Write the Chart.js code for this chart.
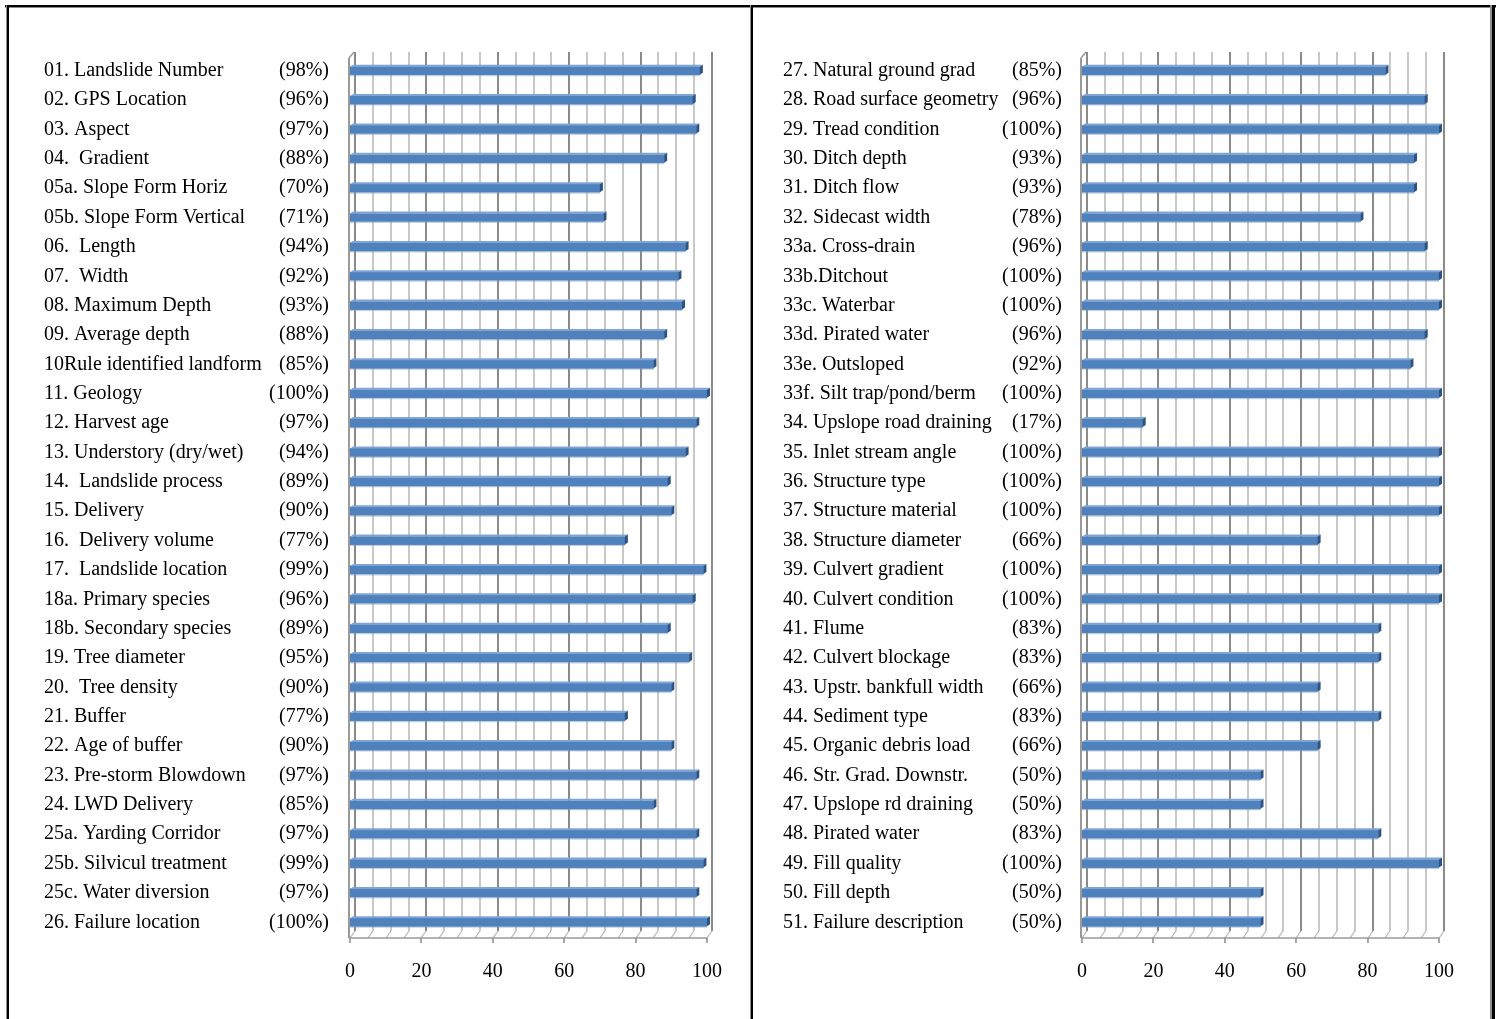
<!DOCTYPE html>
<html>
<head>
<meta charset="utf-8">
<title>Field completion by attribute</title>
<script src="https://cdn.jsdelivr.net/npm/chart.js@4.4.1/dist/chart.umd.min.js"></script>
<style>
  html, body { margin: 0; padding: 0; background: #fff; }
  body { width: 1501px; height: 1019px; position: relative; overflow: hidden; }
  .rule { position: absolute; }
  .panel { position: absolute; top: 9px; height: 1010px; }
</style>
</head>
<body>
<!-- page frame -->
<div class="rule" style="left:5px;top:5px;width:1491px;height:2px;background:#000"></div>
<div class="rule" style="left:5px;top:7px;width:1491px;height:1px;background:#8c8c8c"></div>
<div class="rule" style="left:6px;top:5px;width:1px;height:1014px;background:#8c8c8c"></div>
<div class="rule" style="left:7px;top:5px;width:2px;height:1014px;background:#000"></div>
<div class="rule" style="left:750px;top:5px;width:1px;height:1014px;background:#8c8c8c"></div>
<div class="rule" style="left:751px;top:5px;width:2px;height:1014px;background:#000"></div>
<div class="rule" style="left:1490px;top:5px;width:2px;height:1014px;background:#8c8c8c"></div>
<div class="rule" style="left:1492px;top:5px;width:3px;height:1014px;background:#000"></div>

<div class="panel" style="left:9px;width:740px"><canvas id="leftChart" width="740" height="1010"></canvas></div>
<div class="panel" style="left:753px;width:737px"><canvas id="rightChart" width="737" height="1010"></canvas></div>

<script>
// Attribute names and percentage of records with the attribute filled in
const leftNames = [
  '01. Landslide Number', '02. GPS Location', '03. Aspect', '04.  Gradient',
  '05a. Slope Form Horiz', '05b. Slope Form Vertical', '06.  Length', '07.  Width',
  '08. Maximum Depth', '09. Average depth', '10Rule identified landform', '11. Geology',
  '12. Harvest age', '13. Understory (dry/wet)', '14.  Landslide process', '15. Delivery',
  '16.  Delivery volume', '17.  Landslide location', '18a. Primary species', '18b. Secondary species',
  '19. Tree diameter', '20.  Tree density', '21. Buffer', '22. Age of buffer',
  '23. Pre-storm Blowdown', '24. LWD Delivery', '25a. Yarding Corridor', '25b. Silvicul treatment',
  '25c. Water diversion', '26. Failure location'
];
const leftValues = [
  98, 96, 97, 88, 70, 71, 94, 92, 93, 88, 85, 100, 97, 94, 89,
  90, 77, 99, 96, 89, 95, 90, 77, 90, 97, 85, 97, 99, 97, 100
];

const rightNames = [
  '27. Natural ground grad', '28. Road surface geometry', '29. Tread condition', '30. Ditch depth',
  '31. Ditch flow', '32. Sidecast width', '33a. Cross-drain', '33b.Ditchout',
  '33c. Waterbar', '33d. Pirated water', '33e. Outsloped', '33f. Silt trap/pond/berm',
  '34. Upslope road draining', '35. Inlet stream angle', '36. Structure type', '37. Structure material',
  '38. Structure diameter', '39. Culvert gradient', '40. Culvert condition', '41. Flume',
  '42. Culvert blockage', '43. Upstr. bankfull width', '44. Sediment type', '45. Organic debris load',
  '46. Str. Grad. Downstr.', '47. Upslope rd draining', '48. Pirated water', '49. Fill quality',
  '50. Fill depth', '51. Failure description'
];
const rightValues = [
  85, 96, 100, 93, 93, 78, 96, 100, 100, 96, 92, 100, 17, 100, 100,
  100, 66, 100, 100, 83, 83, 66, 83, 66, 50, 50, 83, 100, 50, 50
];

// Value axis: 0-100 labelled every 20, gridlines every 5
const axisMin = 0;
const axisMax = 100;
const labelStep = 20;
const gridStep = 5;

const SERIF = "'Liberation Serif', 'Times New Roman', serif";

// Draws the pseudo-3D walls, floor and gridlines behind the bars,
// then adds a lit top face and a shaded end cap on every bar.
const depthPlugin = {
  id: 'depth3d',
  beforeDatasetsDraw(chart) {
    const { ctx, chartArea: { top, bottom }, scales: { x } } = chart;
    const dx = 5, dy = 7;
    const front = bottom + 1;
    const seg = (x1, y1, x2, y2) => { ctx.beginPath(); ctx.moveTo(x1, y1); ctx.lineTo(x2, y2); ctx.stroke(); };
    ctx.save();
    for (let v = axisMin; v <= axisMax; v += gridStep) {
      const px = Math.round(x.getPixelForValue(v));
      const major = v % labelStep === 0;
      ctx.lineWidth = 2;
      ctx.strokeStyle = major ? '#8a8a8a' : '#c8c8c8';
      seg(px + dx, top - 4, px + dx, front - dy);
      ctx.lineWidth = 1.2;
      ctx.strokeStyle = '#b4b4b4';
      seg(px, front, px + dx, front - dy);
    }
    ctx.strokeStyle = '#9a9a9a';
    ctx.lineWidth = 1.5;
    const x0 = Math.round(x.getPixelForValue(axisMin));
    const x1 = Math.round(x.getPixelForValue(axisMax));
    seg(x0 - 1, front, x1, front);
    ctx.lineWidth = 2;
    seg(x0 - 1, top + 2, x0 - 1, front);
    ctx.lineWidth = 1.5;
    seg(x0 - 1, top + 2, x0 - 1 + dx, top - 4);
    // tick marks under the floor
    ctx.strokeStyle = '#8a8a8a';
    for (let v = axisMin; v <= axisMax; v += labelStep) {
      const px = Math.round(x.getPixelForValue(v));
      seg(px, front, px, front + 5);
    }
    ctx.restore();
  },
  afterDatasetsDraw(chart) {
    const { ctx } = chart;
    const meta = chart.getDatasetMeta(0);
    ctx.save();
    meta.data.forEach((bar) => {
      const { x: xe, y, base, height } = bar.getProps(['x', 'y', 'base', 'height'], true);
      const t = y - height / 2, b = y + height / 2;
      const poly = (pts, fill) => {
        ctx.beginPath();
        ctx.moveTo(pts[0][0], pts[0][1]);
        for (let i = 1; i < pts.length; i++) ctx.lineTo(pts[i][0], pts[i][1]);
        ctx.closePath();
        ctx.fillStyle = fill;
        ctx.fill();
      };
      poly([[base, t], [base + 3, t - 2], [xe + 3, t - 2], [xe, t]], '#7ea5d6');
      poly([[xe, t], [xe + 3, t - 2], [xe + 3, b - 2], [xe, b]], '#2d5284');
      poly([[base, b], [xe, b], [xe, b + 1.5], [base, b + 1.5]], 'rgba(120,150,195,0.45)');
    });
    ctx.restore();
  }
};

function makePanel(canvasId, names, values, box) {
  const pctLabels = values.map((v) => '(' + v + '%)');
  const labelFont = { family: SERIF, size: 20 };
  return new Chart(document.getElementById(canvasId), {
    type: 'bar',
    data: {
      labels: names,
      datasets: [{
        data: values,
        xAxisID: 'x',
        yAxisID: 'y',
        backgroundColor: '#4f81bd',
        borderWidth: 0,
        barThickness: 8
      }]
    },
    options: {
      indexAxis: 'y',
      responsive: false,
      animation: false,
      devicePixelRatio: 1,
      layout: { padding: { left: box.padLeft, right: box.padRight, top: 47, bottom: 0 } },
      plugins: { legend: { display: false }, tooltip: { enabled: false } },
      scales: {
        x: {
          type: 'linear',
          min: axisMin,
          max: axisMax,
          position: 'bottom',
          grid: { display: false, drawTicks: false },
          border: { display: false },
          ticks: { stepSize: labelStep, padding: 23, maxRotation: 0, color: '#000', font: { family: SERIF, size: 20 } },
          afterFit(s) { s.height = 82; }
        },
        y: {
          type: 'category',
          position: 'left',
          weight: 2,
          offset: true,
          grid: { display: false, drawTicks: false },
          border: { display: false },
          ticks: { crossAlign: 'far', padding: 0, autoSkip: false, color: '#000', font: labelFont },
          afterFit(s) { s.width = box.nameWidth; }
        },
        yPct: {
          type: 'category',
          labels: pctLabels,
          position: 'left',
          weight: 1,
          offset: true,
          grid: { display: false, drawTicks: false },
          border: { display: false },
          ticks: { padding: box.pctGap, autoSkip: false, color: '#000', font: labelFont },
          afterFit(s) { s.width = box.pctWidth; }
        }
      }
    },
    plugins: [depthPlugin]
  });
}

makePanel('leftChart', leftNames, leftValues, { padLeft: 35, padRight: 42, nameWidth: 224, pctWidth: 82, pctGap: 21 });
makePanel('rightChart', rightNames, rightValues, { padLeft: 30, padRight: 51, nameWidth: 218, pctWidth: 81, pctGap: 20 });
</script>
</body>
</html>
